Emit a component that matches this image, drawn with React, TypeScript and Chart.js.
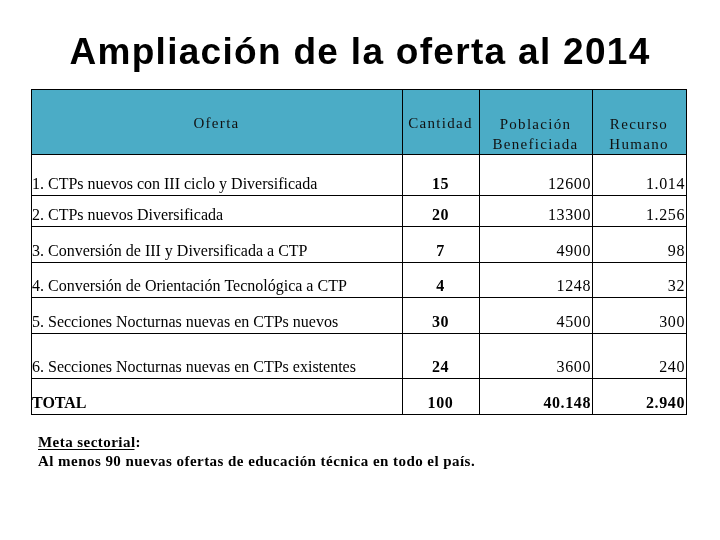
import React, { useEffect, useRef } from "react";
import { Chart, registerables } from "chart.js";

Chart.register(...registerables);

const titleText = "Ampliación de la oferta al 2014";
const headerLabels: string[][] = [["Oferta"], ["Cantidad"], ["Población", "Beneficiada"], ["Recurso", "Humano"]];
const ofertaLabels = [
  "1. CTPs nuevos con III ciclo y Diversificada",
  "2. CTPs nuevos Diversificada",
  "3. Conversión de III y Diversificada a CTP",
  "4. Conversión de Orientación Tecnológica a CTP",
  "5. Secciones Nocturnas nuevas en CTPs nuevos",
  "6. Secciones Nocturnas nuevas en CTPs existentes",
  "TOTAL",
];
const cantidad = ["15", "20", "7", "4", "30", "24", "100"];
const poblacion = ["12600", "13300", "4900", "1248", "4500", "3600", "40.148"];
const recurso = ["1.014", "1.256", "98", "32", "300", "240", "2.940"];
const footTitle = "Meta sectorial";
const footText = "Al menos 90 nuevas ofertas de educación técnica en todo el país.";

// layout (scale units)
const COL_EDGES = [0, 371, 448, 561, 655];
const ROW_EDGES = [0, 65, 106, 137, 173, 208, 244, 289, 325];
const HEADER_BG = "#4BACC6";
const SERIF = "'Liberation Serif', 'Times New Roman', serif";
const SANS = "'Liberation Sans', Arial, sans-serif";

const tablePlugin = {
  id: "tablePlugin",
  beforeDraw(chart: any) {
    const { ctx } = chart;
    ctx.save();
    ctx.fillStyle = "#ffffff";
    ctx.fillRect(0, 0, chart.width, chart.height);
    ctx.restore();
  },
  afterDraw(chart: any) {
    const { ctx } = chart;
    const xs = chart.scales.x;
    const ys = chart.scales.y;
    const X = (v: number) => xs.getPixelForValue(v);
    const Y = (v: number) => ys.getPixelForValue(v);
    const setLS = (v: string) => {
      try { (ctx as any).letterSpacing = v; } catch (e) {}
    };
    ctx.save();

    // title
    ctx.fillStyle = "#000";
    ctx.font = `bold 37px ${SANS}`;
    ctx.textAlign = "center";
    ctx.textBaseline = "alphabetic";
    setLS("1.3px");
    ctx.fillText(titleText, chart.width / 2, Y(0) - 25);

    // header background
    ctx.fillStyle = HEADER_BG;
    ctx.fillRect(X(0), Y(ROW_EDGES[0]), X(COL_EDGES[4]) - X(0), Y(ROW_EDGES[1]) - Y(ROW_EDGES[0]));

    // header text
    ctx.fillStyle = "#111";
    ctx.font = `15px ${SERIF}`;
    setLS("1.3px");
    headerLabels.forEach((lines, c) => {
      const cx = (X(COL_EDGES[c]) + X(COL_EDGES[c + 1])) / 2;
      if (lines.length === 1) {
        ctx.fillText(lines[0], cx, Y(ROW_EDGES[0]) + 39);
      } else {
        ctx.fillText(lines[0], cx, Y(ROW_EDGES[0]) + 40);
        ctx.fillText(lines[1], cx, Y(ROW_EDGES[0]) + 60);
      }
    });

    // body
    ofertaLabels.forEach((lab, i) => {
      const isTotal = i === ofertaLabels.length - 1;
      const base = Y(ROW_EDGES[i + 2]) - 6;
      ctx.fillStyle = "#000";
      setLS("0px");
      ctx.textAlign = "left";
      ctx.font = `${isTotal ? "bold " : ""}16px ${SERIF}`;
      ctx.fillText(lab, X(COL_EDGES[0]) + 1, base);

      setLS("0.6px");
      ctx.textAlign = "center";
      ctx.font = `bold 16px ${SERIF}`;
      ctx.fillText(cantidad[i], (X(COL_EDGES[1]) + X(COL_EDGES[2])) / 2, base);

      ctx.textAlign = "right";
      ctx.font = `${isTotal ? "bold " : ""}16px ${SERIF}`;
      ctx.fillText(poblacion[i], X(COL_EDGES[3]) - 1, base);
      ctx.fillText(recurso[i], X(COL_EDGES[4]) - 1, base);
    });

    // grid lines
    ctx.strokeStyle = "#000";
    ctx.lineWidth = 1;
    ctx.beginPath();
    ROW_EDGES.forEach((r) => {
      const py = Math.round(Y(r)) + 0.5;
      ctx.moveTo(X(0), py);
      ctx.lineTo(X(COL_EDGES[4]) + 1, py);
    });
    COL_EDGES.forEach((c) => {
      const px = Math.round(X(c)) + 0.5;
      ctx.moveTo(px, Y(ROW_EDGES[0]));
      ctx.lineTo(px, Y(ROW_EDGES[ROW_EDGES.length - 1]) + 1);
    });
    ctx.stroke();

    // footnote
    const fx = X(0) + 7;
    const fy1 = Y(ROW_EDGES[ROW_EDGES.length - 1]) + 33;
    const fy2 = fy1 + 19;
    ctx.textAlign = "left";
    ctx.fillStyle = "#000";
    ctx.font = `bold 15px ${SERIF}`;
    setLS("0.45px");
    ctx.fillText(footTitle, fx, fy1);
    const w = ctx.measureText(footTitle).width;
    ctx.fillText(":", fx + w, fy1);
    ctx.fillRect(fx, fy1 + 2, w - 1, 1);
    ctx.fillText(footText, fx, fy2);

    ctx.restore();
  },
};

export default function App() {
  const ref = useRef<HTMLCanvasElement | null>(null);
  useEffect(() => {
    if (!ref.current) return;
    const chart = new Chart(ref.current, {
      type: "scatter",
      data: { datasets: [] },
      options: {
        responsive: false,
        animation: false,
        layout: { padding: { left: 31, right: 34, top: 89, bottom: 126 } },
        scales: {
          x: { type: "linear", min: COL_EDGES[0], max: COL_EDGES[COL_EDGES.length - 1], display: false },
          y: { type: "linear", min: ROW_EDGES[0], max: ROW_EDGES[ROW_EDGES.length - 1], reverse: true, display: false },
        },
        plugins: { legend: { display: false }, tooltip: { enabled: false }, title: { display: false } },
      },
      plugins: [tablePlugin],
    } as any);
    return () => chart.destroy();
  }, []);
  return (
    <div style={{ position: "fixed", left: 0, top: 0, width: 720, height: 540, background: "#fff" }}>
      <canvas ref={ref} width={720} height={540} style={{ display: "block" }} />
    </div>
  );
}
